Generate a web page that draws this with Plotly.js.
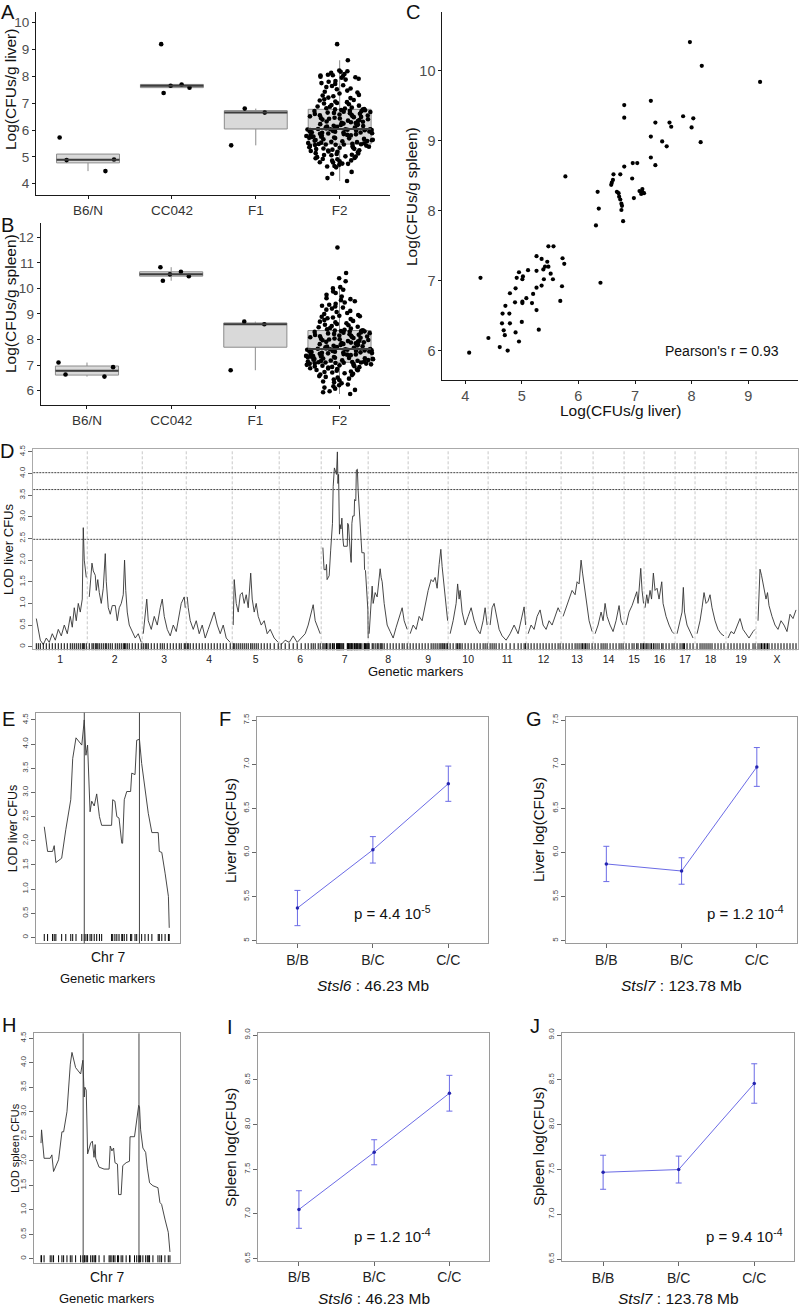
<!DOCTYPE html>
<html><head><meta charset="utf-8">
<script src="https://cdn.plot.ly/plotly-3.0.1.min.js"></script>
<style>body{margin:0;background:#fff}#chart{width:800px;height:1308px}</style>
</head><body><div id="chart"></div>
<script>
// ---------------- DATA ----------------
const groups = ['B6/N', 'CC042', 'F1', 'F2'];
const liverB6 = [4.47, 4.88, 4.90, 5.72];
const liverCC = [9.20, 7.70, 7.65, 7.58, 7.38];
const liverF1 = [6.65, 6.80, 5.43];
const liverF2 = [
  4.10, 4.21, 4.37, 4.44, 4.61, 4.64, 4.66, 4.71, 4.74, 4.75, 4.79, 4.80, 4.84, 4.86, 4.87, 4.91, 4.92, 4.95, 4.96, 4.99,
  5.01, 5.02, 5.06, 5.07, 5.08, 5.11, 5.13, 5.14, 5.17, 5.19, 5.20, 5.22, 5.24, 5.25, 5.27, 5.29, 5.30, 5.31, 5.34, 5.35,
  5.36, 5.38, 5.40, 5.41, 5.42, 5.44, 5.45, 5.46, 5.46, 5.47,
  5.48, 5.49, 5.51, 5.52, 5.53, 5.55, 5.56, 5.58, 5.59, 5.60, 5.62, 5.63, 5.64, 5.66, 5.67, 5.69, 5.70, 5.71, 5.72, 5.74,
  5.75, 5.76, 5.78, 5.79, 5.80, 5.81, 5.82, 5.84, 5.85, 5.86, 5.87, 5.88, 5.90, 5.91, 5.91, 5.92, 5.94, 5.95, 5.96, 5.97,
  5.98, 5.99, 6.00, 6.00, 6.01, 6.02, 6.02, 6.03, 6.03, 6.03,
  6.04, 6.06, 6.07, 6.09, 6.10, 6.12, 6.13, 6.15, 6.16, 6.18, 6.19, 6.21, 6.22, 6.24, 6.26, 6.27, 6.29, 6.31, 6.32, 6.34,
  6.35, 6.37, 6.39, 6.40, 6.42, 6.43, 6.45, 6.46, 6.48, 6.49, 6.51, 6.52, 6.54, 6.55, 6.57, 6.58, 6.60, 6.61, 6.63, 6.64,
  6.65, 6.67, 6.68, 6.70, 6.71, 6.72, 6.74, 6.75, 6.76, 6.77,
  6.78, 6.80, 6.81, 6.84, 6.87, 6.88, 6.91, 6.93, 6.96, 6.99, 7.01, 7.04, 7.06, 7.10, 7.12, 7.15, 7.19, 7.21, 7.26, 7.29,
  7.31, 7.36, 7.40, 7.43, 7.47, 7.52, 7.55, 7.60, 7.64, 7.67, 7.72, 7.75, 7.80, 7.83, 7.88, 7.91, 7.95, 7.97, 7.99, 8.01,
  8.03, 8.04, 8.06, 8.09, 8.13, 8.17, 8.19, 8.22, 8.60, 9.20
];
const spleenB6 = [7.10, 6.92, 6.63, 6.55];
const spleenCC = [10.83, 10.65, 10.55, 10.48, 10.30];
const spleenF1 = [8.70, 8.60, 6.80];
const spleenF2 = [
  5.87, 5.94, 5.98, 6.03, 6.08, 6.12, 6.17, 6.21, 6.24, 6.29, 6.33, 6.36, 6.41, 6.44, 6.47, 6.51, 6.54, 6.57, 6.61, 6.63,
  6.66, 6.68, 6.71, 6.73, 6.75, 6.78, 6.80, 6.81, 6.83, 6.85, 6.87, 6.88, 6.90, 6.92, 6.93, 6.95, 6.96, 6.98, 6.99, 7.00,
  7.01, 7.03, 7.04, 7.05, 7.06, 7.07, 7.08, 7.09, 7.10, 7.10,
  7.11, 7.12, 7.13, 7.14, 7.16, 7.17, 7.18, 7.19, 7.20, 7.21, 7.23, 7.24, 7.25, 7.26, 7.27, 7.28, 7.29, 7.31, 7.32, 7.33,
  7.34, 7.35, 7.36, 7.37, 7.39, 7.40, 7.41, 7.42, 7.43, 7.44, 7.46, 7.47, 7.48, 7.49, 7.50, 7.51, 7.52, 7.53, 7.54, 7.55,
  7.56, 7.57, 7.58, 7.59, 7.60, 7.60, 7.61, 7.62, 7.62, 7.63,
  7.64, 7.65, 7.67, 7.68, 7.70, 7.71, 7.73, 7.74, 7.76, 7.77, 7.79, 7.80, 7.82, 7.83, 7.85, 7.86, 7.88, 7.89, 7.91, 7.92,
  7.94, 7.95, 7.97, 7.98, 8.00, 8.01, 8.03, 8.04, 8.06, 8.07, 8.09, 8.10, 8.12, 8.13, 8.15, 8.16, 8.18, 8.19, 8.21, 8.22,
  8.24, 8.25, 8.27, 8.28, 8.30, 8.31, 8.32, 8.33, 8.34, 8.35,
  8.36, 8.38, 8.40, 8.43, 8.45, 8.48, 8.50, 8.53, 8.56, 8.58, 8.61, 8.64, 8.67, 8.70, 8.73, 8.76, 8.80, 8.83, 8.86, 8.89,
  8.91, 8.93, 8.96, 9.00, 9.04, 9.08, 9.12, 9.17, 9.21, 9.25, 9.29, 9.32, 9.36, 9.40, 9.45, 9.50, 9.54, 9.58, 9.62, 9.68,
  9.75, 9.82, 9.88, 9.95, 10.00, 10.05, 10.28, 10.40, 10.60, 11.60
];

// Panel C: paired liver / spleen
const corrLiver = [7.97, 8.18, 9.21, 7.28, 6.81, 6.81, 7.85, 8.03, 7.36, 7.61, 7.64, 8.00, 7.28, 7.48, 7.56, 8.16, 7.28, 7.36, 6.96, 7.04,
  6.81, 6.95, 6.62, 6.74, 6.61, 6.59, 6.58, 6.34, 6.68, 6.71, 6.72, 6.74, 6.76, 6.77, 6.76, 6.79, 6.31, 6.36, 6.98, 7.08,
  7.11, 7.13, 7.16, 7.13, 5.77, 5.47, 5.56, 5.26, 5.35, 5.72, 5.75, 5.45, 5.47, 5.41, 5.38, 5.11, 4.95, 5.26, 5.51, 5.55,
  5.39, 5.02, 5.01, 4.91, 4.27, 5.26, 5.35, 5.71, 4.89, 4.79, 5.20, 5.08, 4.88, 5.01, 5.01, 5.18, 5.68, 4.71, 4.66, 4.78,
  5.26, 5.00, 4.65, 4.79, 4.68, 4.89, 4.70, 5.30, 4.41, 4.95, 4.61, 4.75, 4.07, 6.39];
const corrSpleen = [10.41, 10.07, 9.84, 9.57, 9.51, 9.33, 9.35, 9.32, 9.26, 9.26, 9.20, 9.19, 9.06, 8.99, 8.92, 8.98, 8.76, 8.65, 8.68, 8.68,
  8.63, 8.46, 8.52, 8.52, 8.44, 8.40, 8.37, 8.27, 8.27, 8.25, 8.20, 8.16, 8.10, 8.07, 8.01, 7.85, 7.79, 8.03, 8.18, 8.28,
  8.24, 8.27, 8.25, 8.31, 8.49, 7.49, 7.49, 7.35, 7.31, 7.32, 7.24, 7.27, 7.20, 7.20, 7.16, 7.15, 7.12, 7.14, 7.10, 7.02,
  7.02, 7.06, 7.02, 7.04, 7.04, 6.90, 6.93, 6.92, 6.89, 6.82, 6.81, 6.75, 6.69, 6.70, 6.68, 6.68, 6.71, 6.64, 6.53, 6.53,
  6.58, 6.41, 6.39, 6.39, 6.29, 6.26, 6.22, 6.30, 6.18, 6.13, 6.05, 6.00, 5.97, 6.97];
const pearsonR = '0.93';

// Panel D: genome scan (positions within chromosome, LOD)
const chrNames = ['1','2','3','4','5','6','7','8','9','10','11','12','13','14','15','16','17','18','19','X'];
const chrLen = [54, 55, 44, 46, 47, 42, 47, 40, 40, 40, 38, 35, 32, 31, 20, 31, 20, 31, 30, 42];
const chr7Pos = [1.7,2.9,4.7,5.3,5.9,8.0,9.5,11.3,12.0,13.2,15.3,16.2,16.8,17.4,18.3,18.9,19.8,20.7,21.7,22.5,26.1,26.5,27.3,28.0,28.8,29.8,30.1,30.7,31.6,33.0,33.4,34.6,35.2,36.2,37.0,38.2,39.4,40.7,43.0,43.4,44.3,45.5,46.7,47.0];
const chr7LiverLod = [2.29,1.78,1.78,1.90,1.55,1.64,2.23,2.85,3.70,4.13,3.98,4.50,3.77,3.98,2.60,2.82,2.72,2.97,2.50,2.32,2.32,2.85,2.82,2.50,2.47,1.95,1.95,2.85,3.02,3.02,3.40,3.37,4.08,4.10,3.60,3.05,2.57,2.17,2.17,1.78,1.76,1.33,0.85,0.20];
const chr7SpleenPos = [1.1,1.3,2.2,4.4,5.0,5.6,7.4,8.6,9.2,10.4,11.6,12.2,13.5,15.3,16.1,16.6,16.8,17.3,17.8,18.9,19.5,20.1,20.5,20.7,21.9,23.7,25.5,25.9,26.5,27.1,27.6,28.5,28.9,29.8,30.4,31.6,32.8,33.0,34.6,35.4,36.1,36.4,36.8,37.6,38.6,39.2,39.7,40.0,41.2,43.0,43.7,44.3,45.5,46.7,47.3];
const chr7SpleenLod = [2.36,2.63,2.05,2.05,2.12,1.78,2.02,2.59,2.59,3.0,3.97,4.21,3.9,3.77,4.05,3.3,3.5,3.44,2.14,2.36,2.4,2.07,2.33,2.05,1.87,1.83,1.83,2.3,2.2,2.26,1.96,1.93,1.31,1.31,1.9,1.96,1.99,2.49,2.49,2.9,3.13,3.1,2.63,2.26,2.17,1.85,1.68,1.55,1.49,1.45,1.15,1.11,0.81,0.54,0.14];
const lodPos = [
  [3,5,7,10,13,16,19,22,25,28,31,34,37,39,41,43,45,47,49,50,51,53],
  [2,4.7,6,8,9,10.5,12,14,16,18,19,21,23,25,28,30,32,34,36,37.3,38.5,40,42,45,48,51,54],
  [1,3,4.5,6,9,12,15,18,20,22,25,28,31,34,37,39,42,43],
  [1,2,4,7,10,13,16,19,22,25,28,31,34,37,40,44],
  [1,2,4,6,8,10,12,14,16,18.5,20,22,24,26,29,32,35,38,42,46],
  [2,6,10,14,18,22,26,29,32,34,36,39,41],
  chr7Pos,
  [1,4,5,7,9,10,12,13,14,16,19,22,25,28,31,34,36,39],
  [2,5,8,11,14,17,20,23,25,27,29,31,32.7,34,35,36.5,38,39.5],
  [2,5,8,9.5,11,12,14,17,20,23,26,29,32,35,37,39],
  [2,4,6,8,11,14,18,22,26,30,33,36,37.5],
  [2,5,8,11,14,17,20,23,26,29,32,34],
  [2,5,8,11,14,16,18,20,21.5,23,24.5,26,28,31],
  [2,5,8,10,12,14,17,20,23,26,28,30],
  [2,5,8,10,12.7,14,16.7,18,19.5],
  [1,2.7,4,6,7.5,9.3,11,13,15,17.7,19,22,25,28,30],
  [2,5,7,8.3,9.5,12,15,18],
  [2,5,7,9,11,13,15,17,20,23,26,29],
  [2,5,8,11,14,17,20,23,27,29],
  [2,4,5.5,7,8.5,10,11.5,13,16,19,22,25,28,31,34,37,40]
];
const lodVal = [
  [0.65,0.35,0.15,0.05,0.2,0.1,0.3,0.15,0.4,0.25,0.5,0.3,0.7,0.45,0.9,0.6,1.0,0.8,1.1,2.75,2.0,1.6],
  [1.15,1.93,1.75,1.65,1.3,1.55,1.25,1.0,1.35,2.15,1.5,0.9,0.75,0.95,0.95,0.6,0.9,1.0,1.2,2.0,1.3,0.8,0.5,0.35,0.2,0.3,0.1],
  [0.3,0.8,1.1,0.6,0.4,0.7,0.5,0.9,1.1,0.7,0.4,0.25,0.5,0.35,0.8,1.0,1.15,0.9],
  [1.15,0.9,0.6,0.4,0.6,0.3,0.5,0.2,0.4,0.6,0.8,0.5,0.3,0.5,0.2,0.1],
  [0.5,1.55,1.0,0.8,1.2,1.25,1.0,1.2,0.9,1.7,1.1,0.8,1.0,0.7,0.5,0.6,0.3,0.4,0.2,0.1],
  [0.05,0.15,0.1,0.25,0.1,0.2,0.3,0.5,0.75,0.97,0.6,0.4,0.3],
  chr7LiverLod,
  [0.3,1.4,1.0,1.25,1.15,1.4,1.8,1.6,1.5,1.0,0.5,0.35,0.2,0.45,0.7,0.9,0.6,0.4],
  [0.3,0.5,0.4,0.7,0.6,1.0,1.3,1.55,1.5,1.6,1.35,1.9,2.25,1.85,1.6,1.3,0.9,0.6],
  [0.3,0.6,1.0,1.45,1.1,1.3,0.8,0.5,0.7,0.9,0.6,0.4,0.3,0.6,0.9,0.5],
  [0.5,0.9,1.0,0.75,0.4,0.25,0.15,0.3,0.5,0.3,0.6,0.92,0.5],
  [0.3,0.5,0.4,0.7,0.85,0.5,0.4,0.6,0.5,0.7,0.9,0.8],
  [0.7,0.9,1.1,1.3,1.2,1.5,1.45,2.0,1.7,1.45,1.1,0.9,0.6,0.35],
  [0.3,0.5,0.8,0.6,1.0,0.7,0.5,0.35,0.6,0.95,0.6,0.5],
  [0.5,0.8,0.95,1.1,1.27,1.0,1.81,1.3,1.0],
  [0.9,1.2,1.0,1.3,1.1,1.7,1.3,1.35,1.1,1.5,1.0,0.7,0.5,0.35,0.3],
  [0.3,0.6,0.8,1.37,0.8,0.5,0.35,0.2],
  [0.3,0.6,0.9,1.25,1.0,1.05,1.2,0.9,0.6,0.4,0.3,0.25],
  [0.2,0.35,0.3,0.5,0.65,0.4,0.3,0.2,0.35,0.4],
  [0.6,1.79,1.65,1.45,1.2,1.1,1.25,0.95,0.7,0.5,0.4,0.6,0.5,0.35,0.75,0.65,0.85]
];
const thresholds = [4.02, 3.63, 2.48];
const qtlPos = [16.2, 36.2];
const lodTicks = [0, 0.5, 1, 1.5, 2, 2.5, 3, 3.5, 4, 4.5];
const lodTickText = ['0','0.5','1.0','1.5','2.0','2.5','3.0','3.5','4.0','4.5'];

// Panels F, G, I, J: genotype effects (mean, s.e.)
const genotypes = ['B/B', 'B/C', 'C/C'];
const liverStsl6 = [5.37, 6.03, 6.78], liverStsl6Se = [0.20, 0.15, 0.20];
const liverStsl7 = [5.87, 5.79, 6.97], liverStsl7Se = [0.20, 0.15, 0.22];
const spleenStsl6 = [7.05, 7.69, 8.35], spleenStsl6Se = [0.21, 0.14, 0.20];
const spleenStsl7 = [7.47, 7.50, 8.46], spleenStsl7Se = [0.19, 0.15, 0.22];
const liverTicks = [5, 5.5, 6, 6.5, 7, 7.5], liverTickText = ['5','5.5','6.0','6.5','7.0','7.5'];
const spleenTicks = [6.5, 7, 7.5, 8, 8.5, 9], spleenTickText = ['6.5','7.0','7.5','8.0','8.5','9.0'];

// ---------------- BUILD ----------------
const W = 800, H = 1308;
const FONT = 'Liberation Sans, Arial, Helvetica, sans-serif';
const dx = (a, b) => [a / W, b / W];
const dy = (t, b) => [1 - b / H, 1 - t / H];

function q7(s, p) { const h = (s.length - 1) * p, lo = Math.floor(h), hi = Math.min(lo + 1, s.length - 1); return s[lo] + (h - lo) * (s[hi] - s[lo]); }
function boxStats(vals) {
  const s = [...vals].sort((a, b) => a - b);
  const q1 = q7(s, .25), md = q7(s, .5), q3 = q7(s, .75), iqr = q3 - q1;
  const inside = s.filter(v => v >= q1 - 1.5 * iqr && v <= q3 + 1.5 * iqr);
  return { q1, md, q3, lf: Math.min(q1, inside[0]), uf: Math.max(q3, inside[inside.length - 1]) };
}
const traces = [];
function addBoxPanel(gvals, xa, ya) {
  const st = gvals.map(boxStats);
  const idx = gvals.map((_, i) => i);
  traces.push({ type: 'box', x: idx, q1: st.map(s => s.q1), median: st.map(s => s.md), q3: st.map(s => s.q3),
    lowerfence: st.map(s => s.lf), upperfence: st.map(s => s.uf), width: 0.75, fillcolor: '#d9d9d9',
    line: { color: '#8c8c8c', width: 1 }, whiskerwidth: 0, boxpoints: false, xaxis: xa, yaxis: ya, hoverinfo: 'skip' });
  traces.push({ type: 'scatter', mode: 'lines', x: idx.flatMap(i => [i - 0.375, i + 0.375, null]),
    y: st.flatMap(s => [s.md, s.md, null]), line: { color: '#3d3d3d', width: 2 }, xaxis: xa, yaxis: ya, hoverinfo: 'skip' });
  traces.push({ type: 'box', x: gvals.flatMap((v, i) => v.map(() => i)), y: gvals.flat(), boxpoints: 'all', jitter: 1,
    pointpos: 0, width: 0.8, fillcolor: 'rgba(0,0,0,0)', line: { color: 'rgba(0,0,0,0)', width: 0 },
    marker: { color: '#000', size: 4.6 }, xaxis: xa, yaxis: ya, hoverinfo: 'skip' });
}
addBoxPanel([liverB6, liverCC, liverF1, liverF2], 'x', 'y');
addBoxPanel([spleenB6, spleenCC, spleenF1, spleenF2], 'x2', 'y2');

traces.push({ type: 'scatter', mode: 'markers', x: corrLiver, y: corrSpleen, marker: { color: '#000', size: 4.2 }, xaxis: 'x3', yaxis: 'y3' });

// genome scan
const chrStart = chrLen.map((_, i) => chrLen.slice(0, i).reduce((a, b) => a + b, 0));
const totalLen = chrLen.reduce((a, b) => a + b, 0);
const gx = [], gy = [], rugX = [];
lodPos.forEach((ps, c) => { ps.forEach((p, k) => { gx.push(chrStart[c] + p); gy.push(lodVal[c][k]); rugX.push(chrStart[c] + p); }); gx.push(null); gy.push(null); });
traces.push({ type: 'scatter', mode: 'lines', x: gx, y: gy, line: { color: '#333', width: 0.9 }, xaxis: 'x4', yaxis: 'y4' });
traces.push({ type: 'scatter', mode: 'markers', x: rugX, y: rugX.map(() => 0), marker: { symbol: 'line-ns', size: 5, line: { width: 1, color: '#000' } }, xaxis: 'x4', yaxis: 'y4', cliponaxis: false });

// chr7 detail
traces.push({ type: 'scatter', mode: 'lines', x: chr7Pos, y: chr7LiverLod, line: { color: '#333', width: 0.9 }, xaxis: 'x5', yaxis: 'y5' });
traces.push({ type: 'scatter', mode: 'markers', x: chr7Pos, y: chr7Pos.map(() => 0), marker: { symbol: 'line-ns', size: 5, line: { width: 1, color: '#000' } }, xaxis: 'x5', yaxis: 'y5', cliponaxis: false });
traces.push({ type: 'scatter', mode: 'lines', x: chr7SpleenPos, y: chr7SpleenLod, line: { color: '#333', width: 0.9 }, xaxis: 'x8', yaxis: 'y8' });
traces.push({ type: 'scatter', mode: 'markers', x: chr7SpleenPos, y: chr7SpleenPos.map(() => 0), marker: { symbol: 'line-ns', size: 5, line: { width: 1, color: '#000' } }, xaxis: 'x8', yaxis: 'y8', cliponaxis: false });

function addEffect(vals, se, xa, ya) {
  traces.push({ type: 'scatter', mode: 'lines+markers', x: genotypes, y: vals,
    error_y: { type: 'data', array: se, visible: true, color: '#6b6be6', thickness: 1, width: 3 },
    line: { color: '#6b6be6', width: 1 }, marker: { color: '#2525b0', size: 3.5 }, xaxis: xa, yaxis: ya });
}
addEffect(liverStsl6, liverStsl6Se, 'x6', 'y6');
addEffect(liverStsl7, liverStsl7Se, 'x7', 'y7');
addEffect(spleenStsl6, spleenStsl6Se, 'x9', 'y9');
addEffect(spleenStsl7, spleenStsl7Se, 'x10', 'y10');

// ---------------- AXES ----------------
function gg(domain, anchor, range, extra) {
  return Object.assign({ domain, anchor, range, showline: true, linecolor: '#1a1a1a', linewidth: 1.1, ticks: 'outside', ticklen: 3,
    tickwidth: 1, tickcolor: '#1a1a1a', showgrid: false, zeroline: false, tickfont: { family: FONT, size: 13.5, color: '#4d4d4d' } }, extra || {});
}
function rb(domain, anchor, range, extra) {
  return Object.assign({ domain, anchor, range, showline: true, mirror: true, linecolor: '#9a9a9a', linewidth: 1, ticks: 'outside', ticklen: 4,
    tickwidth: 1, tickcolor: '#666', showgrid: false, zeroline: false, tickfont: { family: FONT, size: 8, color: '#444' } }, extra || {});
}
const catX = { tickvals: [0, 1, 2, 3], ticktext: groups, tickfont: { family: FONT, size: 13.5, color: '#333' } };
const lodY = { tickvals: lodTicks, ticktext: lodTickText, tickangle: -90 };
const chrCenters = chrStart.map((s, i) => s + chrLen[i] / 2);
const genoX = { type: 'category', range: [-0.54, 2.53], tickfont: { family: FONT, size: 14, color: '#222' } };
const cTick = { dtick: 1, ticklen: 2.5, tickfont: { family: FONT, size: 14.5, color: '#4d4d4d' } };

const layout = {
  width: W, height: H, margin: { l: 0, r: 0, t: 0, b: 0 }, showlegend: false,
  paper_bgcolor: '#fff', plot_bgcolor: 'rgba(0,0,0,0)', font: { family: FONT, color: '#000' },
  xaxis: gg(dx(36, 390), 'y', [-0.62, 3.6], catX),
  yaxis: gg(dy(11.7, 195), 'x', [3.58, 10.41], { dtick: 1 }),
  xaxis2: gg(dx(40.7, 390), 'y2', [-0.55, 3.6], catX),
  yaxis2: gg(dy(222.7, 405), 'x2', [5.44, 12.57], { dtick: 1 }),
  xaxis3: gg(dx(442, 798), 'y3', [3.59, 9.88], cTick),
  yaxis3: gg(dy(12, 380), 'x3', [5.58, 10.84], cTick),
  xaxis4: rb(dx(33.3, 798), 'y4', [0, totalLen], { tickvals: chrCenters, ticktext: chrNames, ticks: '', linecolor: '#aaa', tickfont: { family: FONT, size: 10.5, color: '#222' } }),
  yaxis4: rb(dy(449.3, 649.3), 'x4', [-0.06, 4.56], Object.assign({ linecolor: '#aaa' }, lodY)),
  xaxis5: rb(dx(36, 180), 'y5', [-1.3, 50.9], { ticks: '', showticklabels: false }),
  yaxis5: rb(dy(712.7, 943.3), 'x5', [-0.12, 4.65], lodY),
  xaxis6: rb(dx(256.7, 488.3), 'y6', null, genoX),
  yaxis6: rb(dy(716.7, 943.3), 'x6', [4.97, 7.54], { tickvals: liverTicks, ticktext: liverTickText, tickangle: -90 }),
  xaxis7: rb(dx(565.7, 796.7), 'y7', null, genoX),
  yaxis7: rb(dy(716.7, 943.3), 'x7', [4.97, 7.54], { tickvals: liverTicks, ticktext: liverTickText, tickangle: -90 }),
  xaxis8: rb(dx(34.3, 180), 'y8', [-1.3, 50.9], { ticks: '', showticklabels: false }),
  yaxis8: rb(dy(1033.3, 1262.7), 'x8', [-0.08, 4.6], lodY),
  xaxis9: rb(dx(258.3, 489.3), 'y9', null, genoX),
  yaxis9: rb(dy(1033.3, 1260.5), 'x9', [6.48, 9.02], { tickvals: spleenTicks, ticktext: spleenTickText, tickangle: -90 }),
  xaxis10: rb(dx(562.3, 794.3), 'y10', null, genoX),
  yaxis10: rb(dy(1033.3, 1261), 'x10', [6.48, 9.02], { tickvals: spleenTicks, ticktext: spleenTickText, tickangle: -90 }),
  shapes: [], annotations: []
};

// chromosome boundaries & thresholds
chrStart.slice(1).forEach(s => layout.shapes.push({ type: 'line', xref: 'x4', yref: 'y4 domain', x0: s, x1: s, y0: 0, y1: 1, line: { color: '#c8c8c8', width: 1, dash: '3px,2px' }, layer: 'below' }));
thresholds.forEach(t => layout.shapes.push({ type: 'line', xref: 'x4 domain', yref: 'y4', x0: 0, x1: 1, y0: t, y1: t, line: { color: '#444', width: 1, dash: '2px,1px' } }));
[['x5', 'y5'], ['x8', 'y8']].forEach(([xa, ya]) => qtlPos.forEach(q => layout.shapes.push({ type: 'line', xref: xa, yref: ya + ' domain', x0: q, x1: q, y0: 0, y1: 1, line: { color: '#444', width: 1 } })));

function ann(text, x, y, size, extra) {
  layout.annotations.push(Object.assign({ text, x: x / W, y: 1 - y / H, xref: 'paper', yref: 'paper', showarrow: false,
    xanchor: 'center', yanchor: 'middle', font: { family: FONT, size, color: '#111' } }, extra || {}));
}
// panel letters
[['A', 8, 12], ['B', 7, 225], ['C', 413, 12], ['D', 7, 451], ['E', 8.5, 719], ['F', 225, 719], ['G', 534, 719], ['H', 8.5, 1025], ['I', 230, 1027], ['J', 535, 1026]]
  .forEach(([t, x, y]) => ann(t, x, y, 20));
// axis titles
ann('Log(CFUs/g liver)', 10, 90, 15.5, { textangle: -90 });
ann('Log(CFUs/g spleen)', 11, 304, 15.5, { textangle: -90 });
ann('Log(CFUs/g spleen)', 411, 197, 15.5, { textangle: -90 });
ann('Log(CFUs/g liver)', 620, 410, 15.5);
ann('LOD liver CFUs', 8, 549, 13, { textangle: -90 });
ann('Genetic markers', 416, 671.5, 13);
ann('LOD liver CFUs', 13.3, 828, 12.5, { textangle: -90 });
ann('Chr 7', 108, 957, 14);
ann('Genetic markers', 108, 978.5, 13);
ann('LOD spleen CFUs', 15, 1148, 11, { textangle: -90 });
ann('Chr 7', 107, 1277, 14);
ann('Genetic markers', 107, 1298.5, 13);
ann('Liver log(CFUs)', 230, 830, 15, { textangle: -90 });
ann('Liver log(CFUs)', 538, 830, 15, { textangle: -90 });
ann('Spleen log(CFUs)', 230, 1147, 15, { textangle: -90 });
ann('Spleen log(CFUs)', 538, 1147, 15, { textangle: -90 });
ann('<i>Stsl6</i> : 46.23 Mb', 372.5, 985, 15.5);
ann('<i>Stsl7</i> : 123.78 Mb', 681, 985, 15.5);
ann('<i>Stsl6</i> : 46.23 Mb', 374, 1298.5, 15.5);
ann('<i>Stsl7</i> : 123.78 Mb', 678, 1298.5, 15.5);
// in-plot texts
function dann(text, xa, ya, x, y, size) {
  layout.annotations.push({ text, xref: xa + ' domain', yref: ya + ' domain', x, y, showarrow: false, xanchor: 'center', yanchor: 'middle', font: { family: FONT, size, color: '#111' } });
}
dann("Pearson's r = " + pearsonR, 'x3', 'y3', 0.787, 0.079, 14);
dann('p = 4.4 10<sup>-5</sup>', 'x6', 'y6', 0.588, 0.138, 15);
dann('p = 1.2 10<sup>-4</sup>', 'x7', 'y7', 0.78, 0.138, 15);
dann('p = 1.2 10<sup>-4</sup>', 'x9', 'y9', 0.583, 0.112, 15);
dann('p = 9.4 10<sup>-4</sup>', 'x10', 'y10', 0.787, 0.114, 15);

Plotly.newPlot('chart', traces, layout, { staticPlot: true, displayModeBar: false });
</script>
</body></html>
